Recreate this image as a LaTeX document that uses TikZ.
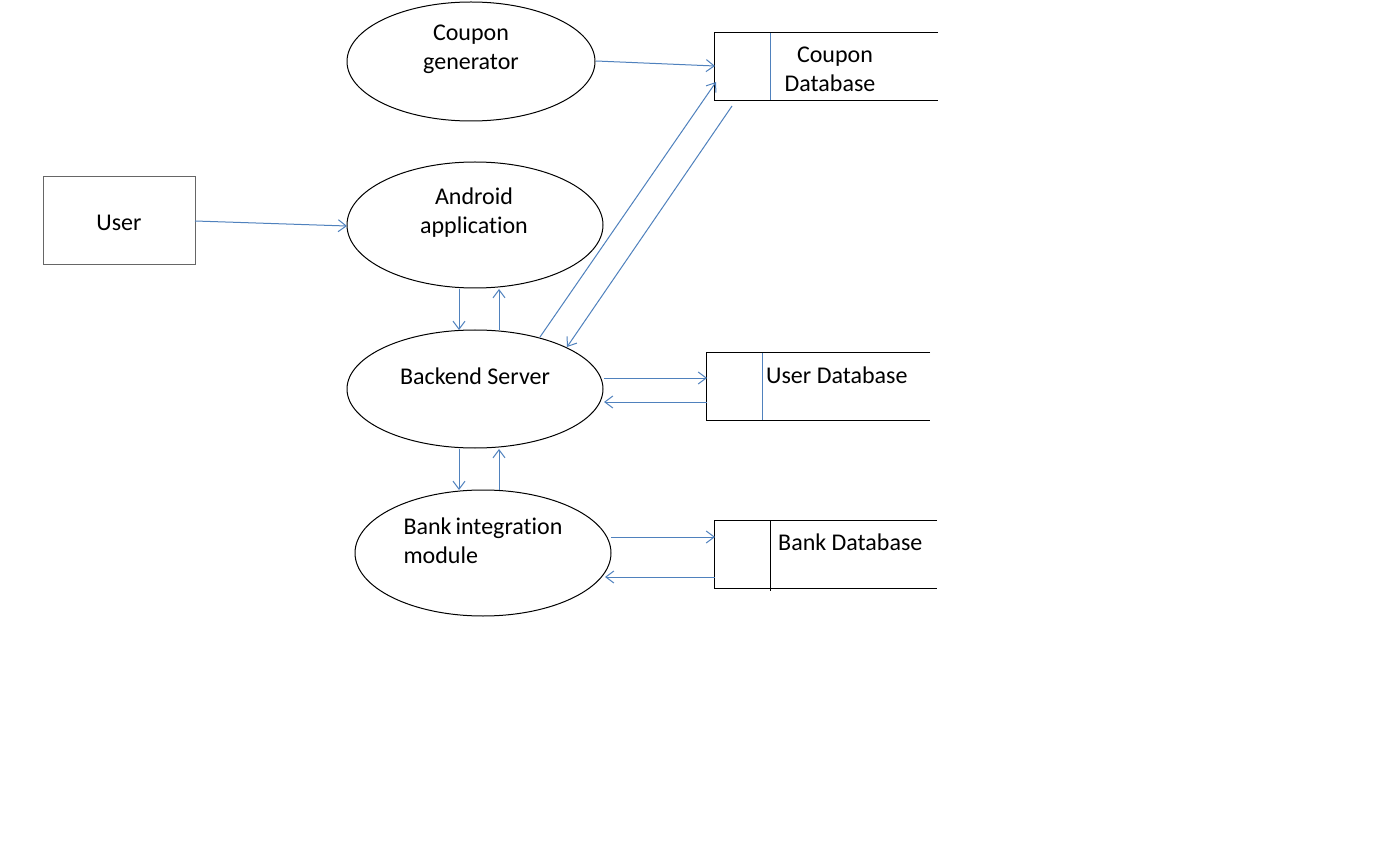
\documentclass[tikz,border=0pt]{standalone}
\usepackage{fontspec}
\setmainfont[Ligatures=NoCommon]{Carlito}
\usetikzlibrary{shapes.geometric,arrows.meta}
\definecolor{lineblue}{RGB}{79,129,189}
\tikzset{
  proc/.style={ellipse,draw=black,line width=1pt,inner sep=0pt},
  lbl/.style={inner sep=0pt,font=\fontsize{24}{29}\selectfont,align=center},
  flow/.style={draw=lineblue,line width=1pt,-{Straight Barb[length=8pt,width=12pt]}},
  storeline/.style={draw=black,line width=1pt},
}
\begin{document}
\begin{tikzpicture}[x=1pt,y=-1pt]
\useasboundingbox (0,0) rectangle (1398,850);
\fill[white] (0,0) rectangle (1398,850);
% processes
\node[proc,minimum width=248,minimum height=119] (cg) at (471,61.5) {};
\node[proc,minimum width=256,minimum height=126] (aa) at (475,225) {};
\node[proc,minimum width=256,minimum height=118] (bs) at (475,389) {};
\node[proc,minimum width=256,minimum height=126] (bi) at (483,553) {};
\node[draw=black!60,line width=1pt,minimum width=152,minimum height=88,inner sep=0] (user) at (119,221) {};
\node[lbl] at (119,223) {User};
\node[lbl] at (471,49) {Coupon\\generator};
\node[lbl] at (474,212.5) {Android\\application};
\node[lbl] at (475,376) {Backend Server};
\node[lbl,align=left] at (483,540.5) {Bank\,integration\\module};
% data stores
\node[inner sep=0,minimum width=223,minimum height=67] (cdb) at (826.5,66.5) {};
\draw[storeline] (cdb.north east) -- (cdb.north west) -- (cdb.south west) -- (cdb.south east);
\draw[lineblue,line width=1pt] ([xshift=56]cdb.north west) -- ([xshift=56]cdb.south west);
\node[lbl] at (830,69) {\hspace*{10pt}Coupon\\Database};
\node[inner sep=0,minimum width=223,minimum height=67] (udb) at (818.5,386.5) {};
\draw[storeline] (udb.north east) -- (udb.north west) -- (udb.south west) -- (udb.south east);
\draw[lineblue,line width=1pt] ([xshift=56]udb.north west) -- ([xshift=56]udb.south west);
\node[lbl,anchor=west] at (766,375) {User Database};
\node[inner sep=0,minimum width=222,minimum height=67] (bdb) at (826,554.5) {};
\draw[storeline] (bdb.north east) -- (bdb.north west) -- (bdb.south west) -- (bdb.south east);
\draw[storeline] ([xshift=56]bdb.north west) -- ([xshift=56,yshift=-3]bdb.south west);
\node[lbl,anchor=west] at (778,542) {Bank Database};
% connector end points
\coordinate (cgR) at (596,61);
\coordinate (cdbL1) at (715,66);
\coordinate (userR) at (195,221);
\coordinate (aaL) at (347,226);
\coordinate (aaB1) at (459,289);
\coordinate (bsT1) at (459,330);
\coordinate (aaB2) at (499,289);
\coordinate (bsT2) at (499,330);
\coordinate (bsTR1) at (540,337);
\coordinate (cdbL2) at (716,82);
\coordinate (cdbB) at (732,106);
\coordinate (bsTR2) at (567,347);
\coordinate (bsR1) at (604,378);
\coordinate (udbL1) at (707,378);
\coordinate (udbL2) at (707,402);
\coordinate (bsR2) at (604,402);
\coordinate (bsB1) at (459,449);
\coordinate (biT1) at (459,490);
\coordinate (bsB2) at (499,449);
\coordinate (biT2) at (499,490);
\coordinate (biR1) at (611,537);
\coordinate (bdbL1) at (715,537);
\coordinate (bdbL2) at (715,577);
\coordinate (biR2) at (605,577);
% connectors
\draw[flow] (cgR) -- (cdbL1);
\draw[flow] (userR) -- (aaL);
\draw[flow] (aaB1) -- (bsT1);
\draw[flow] (bsT2) -- (aaB2);
\draw[flow] (bsTR1) -- (cdbL2);
\draw[flow] (cdbB) -- (bsTR2);
\draw[flow] (bsR1) -- (udbL1);
\draw[flow] (udbL2) -- (bsR2);
\draw[flow] (bsB1) -- (biT1);
\draw[flow] (biT2) -- (bsB2);
\draw[flow] (biR1) -- (bdbL1);
\draw[flow] (bdbL2) -- (biR2);
\end{tikzpicture}
\end{document}
